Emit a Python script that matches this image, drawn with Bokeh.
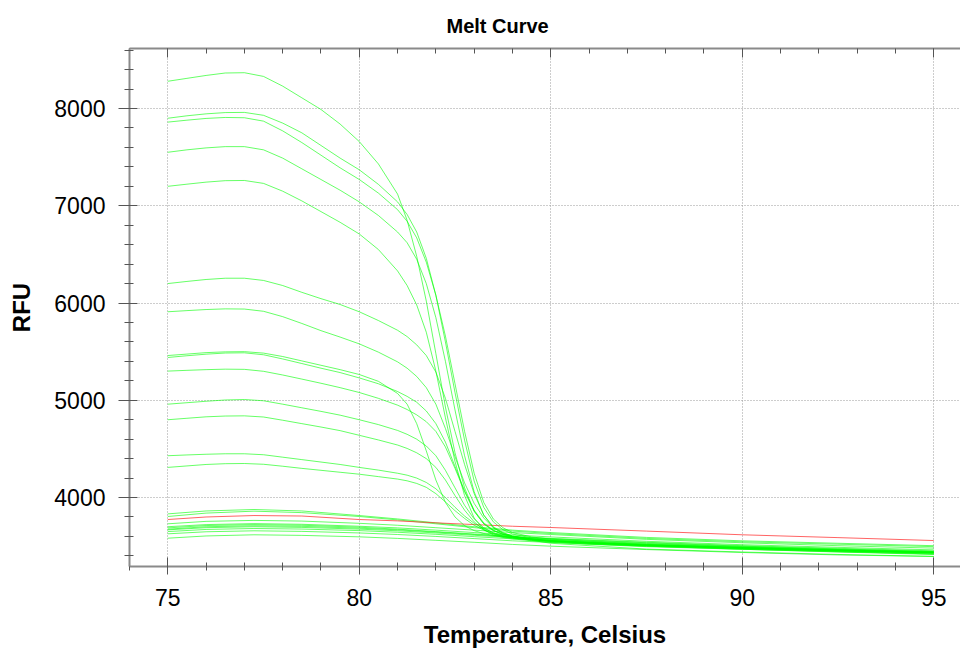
from bokeh.plotting import figure
from bokeh.models import LinearAxis, SingleIntervalTicker, Range1d
from bokeh.embed import file_html
from bokeh.resources import INLINE

# ---- data ----
T_hi = [75, 75.5, 76, 76.5, 77, 77.5, 78, 78.5, 79, 79.5, 80, 80.5, 81, 81.25, 81.5, 81.75,
        82, 82.25, 82.5, 82.75, 83, 83.25, 83.5, 83.75, 84, 84.5, 85, 86, 87.5, 90, 92.5, 95]

curve_a = [8280, 8310, 8340, 8365, 8368, 8330, 8230, 8110, 7990, 7840, 7660, 7430, 7120, 6850,
           6480, 6020, 5480, 4930, 4460, 4100, 3860, 3730, 3660, 3620, 3595, 3570, 3555, 3535,
           3510, 3480, 3455, 3430]
curve_b = [7900, 7925, 7945, 7958, 7960, 7930, 7850, 7750, 7620, 7490, 7370, 7220, 7040, 6910,
           6730, 6460, 6080, 5600, 5080, 4590, 4170, 3900, 3750, 3670, 3625, 3585, 3565, 3545,
           3518, 3488, 3462, 3440]
curve_c = [7860, 7880, 7898, 7908, 7905, 7870, 7770, 7650, 7520, 7390, 7270, 7130, 6960, 6840,
           6670, 6420, 6080, 5660, 5170, 4680, 4250, 3950, 3780, 3690, 3640, 3595, 3572, 3550,
           3522, 3492, 3466, 3445]
curve_d = [7550, 7575, 7595, 7608, 7608, 7575, 7490, 7380, 7270, 7160, 7040, 6900, 6730, 6620,
           6450, 6200, 5850, 5400, 4900, 4430, 4060, 3820, 3690, 3630, 3600, 3570, 3552, 3532,
           3508, 3478, 3453, 3432]
curve_e = [7200, 7222, 7243, 7258, 7260, 7230, 7150, 7050, 6940, 6830, 6710, 6550, 6330, 6180,
           5980, 5700, 5300, 4820, 4370, 4020, 3790, 3670, 3615, 3590, 3575, 3555, 3540, 3520,
           3495, 3468, 3442, 3420]
curve_f = [6200, 6222, 6242, 6255, 6255, 6232, 6180, 6110, 6045, 5985, 5910, 5820, 5720, 5655,
           5570, 5460, 5290, 5020, 4680, 4340, 4040, 3820, 3700, 3640, 3605, 3575, 3558, 3538,
           3512, 3485, 3460, 3438]
curve_g = [5910, 5922, 5933, 5940, 5938, 5915, 5860, 5790, 5716, 5650, 5580, 5495, 5395, 5330,
           5245, 5130, 4960, 4710, 4420, 4150, 3940, 3790, 3690, 3635, 3603, 3573, 3555, 3535,
           3510, 3482, 3456, 3435]
curve_h = [5460, 5475, 5490, 5498, 5500, 5485, 5450, 5405, 5360, 5315, 5265, 5195, 5070, 4960,
           4760, 4480, 4180, 3950, 3800, 3710, 3660, 3630, 3610, 3595, 3583, 3565, 3550, 3530,
           3505, 3476, 3450, 3430]
curve_i = [5440, 5458, 5474, 5486, 5488, 5468, 5425, 5378, 5330, 5285, 5230, 5170, 5090, 5040,
           4980, 4890, 4760, 4570, 4320, 4070, 3870, 3740, 3665, 3625, 3600, 3572, 3555, 3536,
           3512, 3484, 3458, 3437]
curve_j = [5300, 5308, 5315, 5320, 5318, 5298, 5260, 5218, 5175, 5130, 5080, 5020, 4950, 4905,
           4850, 4780, 4680, 4520, 4300, 4060, 3860, 3730, 3660, 3622, 3598, 3570, 3552, 3533,
           3508, 3480, 3455, 3434]
curve_k = [4960, 4975, 4990, 5003, 5008, 4995, 4960, 4923, 4886, 4847, 4800, 4750, 4690, 4650,
           4600, 4530, 4430, 4280, 4100, 3920, 3780, 3690, 3635, 3605, 3588, 3565, 3548, 3528,
           3505, 3477, 3451, 3430]
curve_l = [4800, 4815, 4830, 4838, 4840, 4828, 4795, 4760, 4725, 4688, 4640, 4592, 4540, 4505,
           4460, 4400, 4310, 4180, 4020, 3870, 3750, 3670, 3625, 3600, 3585, 3562, 3545, 3522,
           3500, 3470, 3445, 3420]
curve_m = [4430, 4438, 4445, 4450, 4450, 4440, 4415, 4390, 4365, 4340, 4310, 4282, 4250, 4230,
           4200, 4155, 4090, 4000, 3900, 3810, 3735, 3680, 3640, 3612, 3595, 3575, 3558, 3537,
           3512, 3482, 3456, 3436]
curve_n = [4310, 4325, 4340, 4348, 4350, 4342, 4322, 4300, 4280, 4260, 4240, 4215, 4190, 4172,
           4145, 4105, 4040, 3955, 3865, 3785, 3715, 3665, 3630, 3602, 3585, 3560, 3530, 3505,
           3470, 3440, 3415, 3395]

T_lo = [75, 76, 77.25, 78.5, 80, 81, 82, 83, 84, 85, 87.5, 90, 92.5, 95]

low_1 = [3832, 3862, 3877, 3862, 3815, 3780, 3740, 3700, 3665, 3640, 3590, 3555, 3530, 3505]
low_2 = [3805, 3840, 3860, 3845, 3805, 3770, 3730, 3690, 3655, 3630, 3580, 3545, 3520, 3495]
low_3 = [3730, 3755, 3765, 3758, 3735, 3715, 3690, 3665, 3640, 3620, 3570, 3535, 3505, 3480]
low_4 = [3700, 3722, 3732, 3725, 3705, 3688, 3665, 3640, 3615, 3595, 3550, 3515, 3488, 3462]
low_5 = [3688, 3712, 3722, 3715, 3695, 3675, 3650, 3625, 3600, 3580, 3540, 3505, 3478, 3452]
low_6 = [3675, 3700, 3710, 3704, 3685, 3668, 3645, 3620, 3595, 3577, 3535, 3500, 3472, 3445]
low_7 = [3668, 3690, 3700, 3693, 3675, 3658, 3636, 3612, 3588, 3570, 3528, 3495, 3466, 3440]
low_8 = [3650, 3672, 3682, 3676, 3660, 3643, 3622, 3598, 3575, 3558, 3518, 3485, 3458, 3432]
low_9 = [3627, 3648, 3658, 3652, 3636, 3620, 3600, 3578, 3555, 3538, 3500, 3468, 3440, 3415]
low_10 = [3582, 3605, 3617, 3611, 3596, 3580, 3560, 3540, 3518, 3500, 3465, 3435, 3410, 3394]

red_curve = [3774, 3800, 3815, 3810, 3774, 3760, 3740, 3722, 3705, 3692, 3655, 3617, 3588, 3558]

x_ticks_interval = 5
y_ticks_interval = 1000

FONT = "Liberation Sans"
GREEN = "#00ff00"
RED = "#ff3030"
SPINE = "#8a8a8a"
TICK = "#555555"

p = figure(width=960, height=650, output_backend="svg", toolbar_location=None,
           x_range=Range1d(74.0, 95.7), y_range=Range1d(3291, 8617),
           min_border_left=129, min_border_right=0, min_border_top=48, min_border_bottom=84)
p.outline_line_color = None
p.background_fill_color = "white"
p.border_fill_color = "white"

xt = SingleIntervalTicker(interval=x_ticks_interval, num_minor_ticks=5)
yt = SingleIntervalTicker(interval=y_ticks_interval, num_minor_ticks=5)

for ax, t in ((p.xaxis[0], xt), (p.yaxis[0], yt)):
    ax.ticker = t
    ax.axis_line_color = SPINE
    ax.axis_line_width = 2
    ax.major_tick_line_color = TICK
    ax.minor_tick_line_color = TICK
    ax.major_label_text_font = FONT
    ax.major_label_text_font_size = "23px"
    ax.major_label_text_color = "black"
    ax.axis_label_text_font = FONT
    ax.axis_label_text_font_style = "bold"
    ax.axis_label_text_font_size = "24px"
    ax.axis_label_text_color = "black"

p.xaxis.axis_label = "Temperature, Celsius"
p.yaxis.axis_label = "RFU"
p.xaxis.major_tick_out = 8
p.xaxis.major_tick_in = 9
p.xaxis.minor_tick_out = 4
p.xaxis.minor_tick_in = 4
p.xaxis.major_label_standoff = 14
p.xaxis.axis_label_standoff = 12
p.yaxis.major_tick_out = 11
p.yaxis.major_tick_in = 8
p.yaxis.minor_tick_out = 5
p.yaxis.minor_tick_in = 4
p.yaxis.major_label_standoff = 13
p.yaxis.axis_label_standoff = 16

top = LinearAxis(ticker=xt, major_label_text_font_size="10px", major_label_text_color=None,
                 major_label_standoff=0,
                 major_tick_in=9, major_tick_out=0, minor_tick_in=5, minor_tick_out=0,
                 axis_line_color=SPINE, axis_line_width=2,
                 major_tick_line_color=TICK, minor_tick_line_color=TICK)
p.add_layout(top, "above")

p.xgrid.ticker = xt
p.ygrid.ticker = yt
for g in (p.xgrid[0], p.ygrid[0]):
    g.grid_line_color = "#9a9a9a"
    g.grid_line_dash = "1 2"
    g.grid_line_width = 1

p.title.text = "Melt Curve"
p.title.text_font = FONT
p.title.text_font_style = "bold"
p.title.text_font_size = "20px"
p.title.text_color = "black"
p.title.align = "left"
p.title.offset = 317
p.title.standoff = 20
p.title.vertical_align = "top"

for c in (low_10, low_9, low_8, low_7, low_6, low_5, low_4, low_3, low_2, low_1):
    p.line(T_lo, c, line_color=GREEN, line_width=1, line_alpha=0.6)
p.line(T_lo, red_curve, line_color=RED, line_width=1, line_alpha=0.75)
for c in (curve_n, curve_m, curve_l, curve_k, curve_j, curve_i, curve_h, curve_g,
          curve_f, curve_e, curve_d, curve_c, curve_b, curve_a):
    p.line(T_hi, c, line_color=GREEN, line_width=1, line_alpha=0.6)

open("out.html", "w").write(file_html(p, INLINE))
